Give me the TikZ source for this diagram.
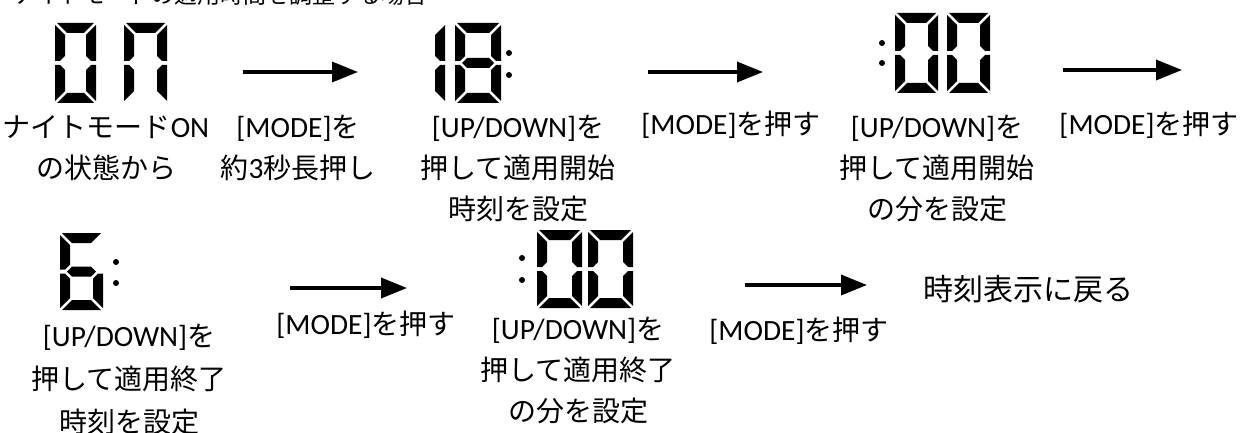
\documentclass[tikz,border=0pt]{standalone}
\usepackage{fontspec}
\setmainfont{Noto Sans CJK JP}
\newfontfamily\latf[Scale=1.05]{Carlito}
\usetikzlibrary{arrows.meta}
\newcommand\la[1]{{\latf #1}}
\def\dW{43}\def\dH{80}\def\dT{10}\def\dG{2}
\tikzset{
  segfill/.style={fill=black},
  seg a/.pic={\fill[segfill] (\dG,0) -- (\dW-\dG,0) -- (\dW-\dT-\dG,\dT) -- (\dT+\dG,\dT) -- cycle;},
  seg d/.pic={\fill[segfill] (\dG,\dH) -- (\dW-\dG,\dH) -- (\dW-\dT-\dG,\dH-\dT) -- (\dT+\dG,\dH-\dT) -- cycle;},
  seg f/.pic={\fill[segfill] (0,\dG) -- (\dT,\dT+\dG) -- (\dT,\dH/2-\dT/2-\dG) -- (\dT/2,\dH/2-\dG) -- (0,\dH/2-\dG) -- cycle;},
  seg e/.pic={\fill[segfill] (0,\dH-\dG) -- (\dT,\dH-\dT-\dG) -- (\dT,\dH/2+\dT/2+\dG) -- (\dT/2,\dH/2+\dG) -- (0,\dH/2+\dG) -- cycle;},
  seg b/.pic={\fill[segfill] (\dW,\dG) -- (\dW-\dT,\dT+\dG) -- (\dW-\dT,\dH/2-\dT/2-\dG) -- (\dW-\dT/2,\dH/2-\dG) -- (\dW,\dH/2-\dG) -- cycle;},
  seg c/.pic={\fill[segfill] (\dW,\dH-\dG) -- (\dW-\dT,\dH-\dT-\dG) -- (\dW-\dT,\dH/2+\dT/2+\dG) -- (\dW-\dT/2,\dH/2+\dG) -- (\dW,\dH/2+\dG) -- cycle;},
  seg g/.pic={\fill[segfill] (\dT/2+\dG,\dH/2) -- (\dT+\dG,\dH/2-\dT/2) -- (\dW-\dT-\dG,\dH/2-\dT/2) -- (\dW-\dT/2-\dG,\dH/2) -- (\dW-\dT-\dG,\dH/2+\dT/2) -- (\dT+\dG,\dH/2+\dT/2) -- cycle;},
  flow/.style={line width=3.5pt, -{Triangle[length=26pt,width=20pt]}},
  lbl/.style={font=\fontsize{28}{41}\selectfont, align=center, inner sep=0pt},
  lbltwo/.style={font=\fontsize{28}{43}\selectfont, align=center, inner sep=0pt},
  dot/.style={fill=black}
}
\newcommand\sevenseg[5]{\def\dW{#3}\def\dH{#4}%
  \begin{scope}[shift={(#1,#2)}]\foreach \s in {#5}{\pic {seg \s};}\end{scope}}
\begin{document}
\begin{tikzpicture}[x=1pt,y=-1pt]
\useasboundingbox (0,0) rectangle (1252,433);
\clip (0,0) rectangle (1252,433);
% title (cut off at top)
\node[anchor=base west, inner sep=0pt, font=\fontsize{23}{23}\selectfont] (title) at (13,4) {ナイトモードの適用時間を調整する場合};
% row 1 displays
\sevenseg{55}{23}{41}{80}{a,b,c,d,e,f}
\sevenseg{124}{23}{43}{80}{a,b,c,e,f}
\sevenseg{402}{23}{43}{80}{b,c}
\sevenseg{455}{23}{46}{80}{a,b,c,d,e,f,g}
\fill[dot] (509,53) circle[radius=3];
\fill[dot] (509,75) circle[radius=3];
\fill[dot] (882,43) circle[radius=3];
\fill[dot] (882,63) circle[radius=3];
\sevenseg{895}{13}{43}{80}{a,b,c,d,e,f}
\sevenseg{947}{13}{43}{80}{a,b,c,d,e,f}
% row 2 displays
\sevenseg{60}{233}{43}{77}{a,c,d,e,f,g}
\fill[dot] (116,262) circle[radius=3];
\fill[dot] (116,283) circle[radius=3];
\fill[dot] (522,258) circle[radius=3];
\fill[dot] (522,280) circle[radius=3];
\sevenseg{537}{230}{45}{78}{a,b,c,d,e,f}
\sevenseg{588}{230}{45}{78}{a,b,c,d,e,f}
% arrows
\coordinate (a1s) at (243,72);  \coordinate (a1e) at (358,72);
\coordinate (a2s) at (648,72);  \coordinate (a2e) at (763,72);
\coordinate (a3s) at (1063,70); \coordinate (a3e) at (1182,70);
\coordinate (a4s) at (290,288); \coordinate (a4e) at (407,288);
\coordinate (a5s) at (745,285); \coordinate (a5e) at (867,285);
\draw[flow] (a1s) -- (a1e);
\draw[flow] (a2s) -- (a2e);
\draw[flow] (a3s) -- (a3e);
\draw[flow] (a4s) -- (a4e);
\draw[flow] (a5s) -- (a5e);
% labels row 1
\node[lbl] (l1) at (106,148) {ナイトモード\la{ON}\\の状態から};
\node[lbl] (l2) at (298,148) {\la{[MODE]}を\\約\la{3}秒長押し};
\node[lbl] (l3) at (518,169) {\la{[UP/DOWN]}を\\押して適用開始\\時刻を設定};
\node[lbl] (l4) at (731,125) {\la{[MODE]}を押す};
\node[lbl] (l5) at (937,169) {\la{[UP/DOWN]}を\\押して適用開始\\の分を設定};
\node[lbl] (l6) at (1149,125) {\la{[MODE]}を押す};
% labels row 2
\node[lbltwo] (l7) at (129,380) {\la{[UP/DOWN]}を\\押して適用終了\\時刻を設定};
\node[lbl] (l8) at (366,325) {\la{[MODE]}を押す};
\node[lbl] (l9) at (578,371) {\la{[UP/DOWN]}を\\押して適用終了\\の分を設定};
\node[lbl] (l10) at (799,331) {\la{[MODE]}を押す};
\node[font=\fontsize{30}{30}\selectfont, inner sep=0pt] (l11) at (1028,289) {時刻表示に戻る};
\end{tikzpicture}
\end{document}
